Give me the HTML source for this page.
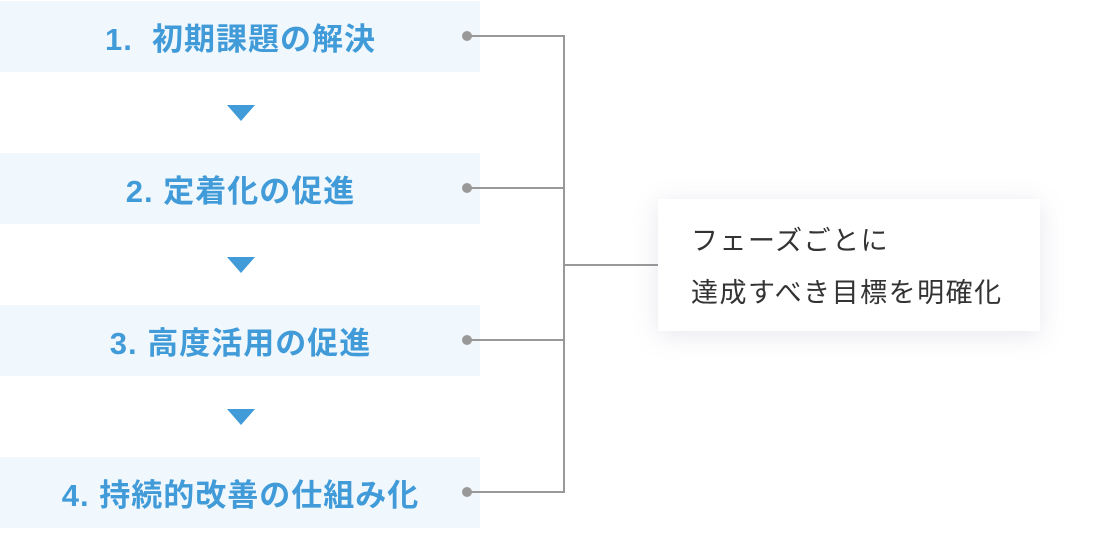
<!DOCTYPE html>
<html><head><meta charset="utf-8"><style>
body{margin:0;width:1108px;height:529px;background:#fff;position:relative;overflow:hidden;font-family:"Liberation Sans","Noto Sans CJK JP",sans-serif}
.b{position:absolute;left:0;width:480px;height:71px;background:#f0f7fd;color:#419bd8;font-weight:bold;font-size:31px;text-align:center;line-height:77px;letter-spacing:1px;text-indent:1px}
.t{position:absolute;left:227px;width:0;height:0;border-left:14px solid transparent;border-right:14px solid transparent;border-top:16px solid #419bd8}
.d{position:absolute;left:462px;width:10px;height:10px;border-radius:50%;background:#999}
.h{position:absolute;height:2px;background:#999}
.c{position:absolute;left:658px;top:199px;width:382px;height:132px;background:#fff;box-shadow:0 4px 24px rgba(120,120,160,0.18);color:#333;font-size:27px;line-height:52px;padding:16px 0 0 33px;box-sizing:border-box;letter-spacing:1.5px;white-space:nowrap}
</style></head><body>
<div class="b" style="top:1px">1.&nbsp; 初期課題の解決</div>
<div class="b" style="top:153px">2. 定着化の促進</div>
<div class="b" style="top:305px">3. 高度活用の促進</div>
<div class="b" style="top:457px">4. 持続的改善の仕組み化</div>
<div class="t" style="top:105px"></div>
<div class="t" style="top:257px"></div>
<div class="t" style="top:409px"></div>
<div class="d" style="top:31px"></div><div class="d" style="top:183px"></div><div class="d" style="top:335px"></div><div class="d" style="top:487px"></div>
<div class="h" style="left:467px;width:98px;top:35px"></div>
<div class="h" style="left:467px;width:98px;top:187px"></div>
<div class="h" style="left:467px;width:98px;top:339px"></div>
<div class="h" style="left:467px;width:98px;top:491px"></div>
<div class="h" style="left:563px;width:2px;top:35px;height:458px"></div>
<div class="h" style="left:563px;width:96px;top:264px"></div>
<div class="c">フェーズごとに<br>達成すべき目標を明確化</div>
</body></html>
